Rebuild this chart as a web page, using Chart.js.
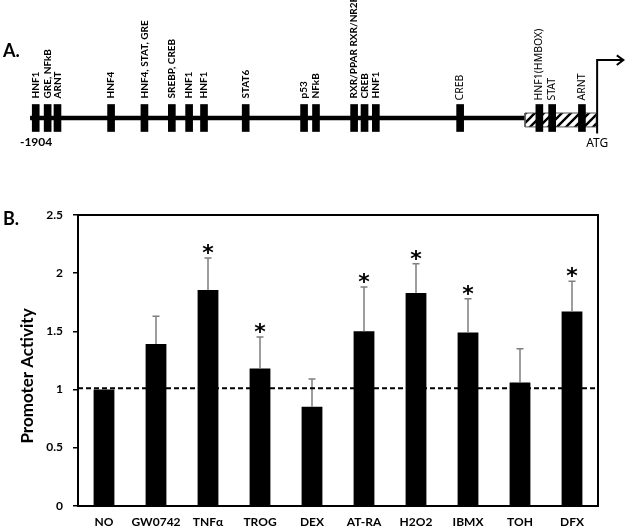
<!DOCTYPE html>
<html>
<head>
<meta charset="utf-8">
<script src="https://cdn.jsdelivr.net/npm/chart.js@4.4.1/dist/chart.umd.min.js"></script>
<style>
  html, body { margin: 0; padding: 0; background: #fff; }
  #wrap { position: relative; width: 629px; height: 529px; }
  #mapChart { position: absolute; left: 0; top: 0; }
  #activityChart { position: absolute; left: 0; top: 160px; }
</style>
</head>
<body>
<div id="wrap">
  <canvas id="mapChart" width="629" height="160"></canvas>
  <canvas id="activityChart" width="629" height="369"></canvas>
</div>
<script>
// A. promoter map, positions in bp relative to ATG
const siteNames = ["HNF1", "GRE, NFkB", "ARNT", "HNF4", "HNF4, STAT, GRE", "SREBP, CREB", "HNF1", "HNF1",
  "STAT6", "p53", "NFkB", "RXR/PPAR RXR/NR2F", "CREB", "HNF1", "CREB", "HNF1(HMBOX)", "STAT", "ARNT"];
const sitePositions = [-1885, -1845, -1812, -1632, -1520, -1428, -1370, -1320,
  -1180, -984, -944, -816, -781, -743, -460, -194, -151, -51];
const promoterStart = -1904;
const utrStart = -242;
const utrEnd = -3;
const atgPos = 0;

// B. promoter activity
const treatments = ["NO", "GW0742", "TNFα", "TROG", "DEX", "AT-RA", "H2O2", "IBMX", "TOH", "DFX"];
const activity = [1.0, 1.39, 1.855, 1.18, 0.85, 1.50, 1.83, 1.49, 1.06, 1.67];
const activitySD = [0, 0.24, 0.275, 0.27, 0.24, 0.38, 0.25, 0.29, 0.29, 0.26];
const significant = [false, false, true, true, false, true, true, true, false, true];
const yTicks = [0, 0.5, 1, 1.5, 2, 2.5];
const controlLevel = 1.01;

Chart.defaults.font.family = "Lato";
Chart.defaults.color = "#000";

// hatch for the 5' UTR box
const hatch = (() => {
  const c = document.createElement("canvas");
  c.width = 9; c.height = 9;
  const g = c.getContext("2d");
  g.fillStyle = "#fff";
  g.fillRect(0, 0, 9, 9);
  g.strokeStyle = "#000";
  g.lineWidth = 2.4;
  g.beginPath();
  g.moveTo(-2, 11); g.lineTo(11, -2);
  g.moveTo(-2, 2); g.lineTo(2, -2);
  g.moveTo(7, 11); g.lineTo(11, 7);
  g.stroke();
  return g.createPattern(c, "repeat");
})();

const boxHalf = 0.5, utrTop = 0.185, utrBottom = -0.33;
const arrowTop = 2.15, arrowBottom = -0.57, arrowLen = 88, headLen = 22, headHalf = 0.17;

const mapLabels = {
  id: "mapLabels",
  afterDatasetsDraw(chart) {
    const { ctx, scales: { x, y } } = chart;
    const base = y.getPixelForValue(boxHalf) - 6;
    ctx.save();
    ctx.fillStyle = "#000";
    siteNames.forEach((name, i) => {
      const px = x.getPixelForValue(sitePositions[i]);
      const proximal = sitePositions[i] > -500;
      ctx.save();
      ctx.translate(px, proximal ? base + 2 : base);
      ctx.rotate(-Math.PI / 2);
      ctx.font = proximal ? "10.5px 'Noto Sans'" : "bold 10px Lato";
      ctx.textAlign = "left";
      ctx.textBaseline = "middle";
      ctx.fillText(name, 0, 0);
      ctx.restore();
    });
    ctx.textBaseline = "middle";
    ctx.textAlign = "center";
    ctx.font = "bold 12px Lato";
    ctx.fillText(String(promoterStart), x.getPixelForValue(promoterStart) + 6, 142);
    ctx.font = "12px 'Noto Sans'";
    ctx.fillText("ATG", x.getPixelForValue(atgPos), 144);
    ctx.textAlign = "left";
    ctx.font = "bold 18px Lato";
    ctx.fillText("A.", 3, 51);
    ctx.restore();
  }
};

new Chart(document.getElementById("mapChart"), {
  type: "bar",
  data: {
    datasets: [
      {
        data: sitePositions.map(p => ({ x: p, y: [-boxHalf, boxHalf] })),
        backgroundColor: "#000",
        barThickness: 7,
        order: 0
      },
      {
        type: "line",
        data: [{ x: utrStart, y: utrTop }, { x: utrEnd, y: utrTop }],
        fill: { value: utrBottom },
        backgroundColor: hatch,
        borderWidth: 0,
        pointRadius: 0,
        order: 3
      },
      {
        type: "line",
        data: [{ x: utrStart, y: utrBottom }, { x: utrEnd, y: utrBottom }, { x: utrEnd, y: utrTop },
          { x: utrStart, y: utrTop }, { x: utrStart, y: utrBottom }],
        borderColor: "#555",
        borderWidth: 1,
        pointRadius: 0,
        fill: false,
        order: 2
      },
      {
        type: "line",
        data: [{ x: promoterStart, y: 0 }, { x: utrStart, y: 0 }],
        borderColor: "#000",
        borderWidth: 4.5,
        pointRadius: 0,
        order: 4
      },
      {
        type: "line",
        data: [{ x: atgPos, y: arrowBottom }, { x: atgPos, y: arrowTop }, { x: atgPos + arrowLen, y: arrowTop }],
        borderColor: "#000",
        borderWidth: 2,
        pointRadius: 0,
        order: 1
      },
      {
        type: "line",
        data: [{ x: atgPos + arrowLen - headLen, y: arrowTop + headHalf }, { x: atgPos + arrowLen, y: arrowTop },
          { x: atgPos + arrowLen - headLen, y: arrowTop - headHalf * 1.1 }],
        borderColor: "#000",
        borderWidth: 2,
        pointRadius: 0,
        order: 1
      }
    ]
  },
  options: {
    responsive: false,
    animation: false,
    events: [],
    layout: { padding: 0 },
    scales: {
      x: { type: "linear", min: -2005, max: 107, offset: false, display: false },
      y: { type: "linear", min: -42 / 27, max: 118 / 27, display: false }
    },
    plugins: { legend: { display: false }, tooltip: { enabled: false } }
  },
  plugins: [mapLabels]
});

const activityExtras = {
  id: "activityExtras",
  afterDatasetsDraw(chart) {
    const { ctx, chartArea: a, scales: { y } } = chart;
    const bars = chart.getDatasetMeta(0).data;
    ctx.save();
    // error bars
    ctx.strokeStyle = "#7f7f7f";
    ctx.lineWidth = 1.5;
    bars.forEach((bar, i) => {
      if (!activitySD[i]) return;
      const top = y.getPixelForValue(activity[i] + activitySD[i]);
      ctx.beginPath();
      ctx.moveTo(bar.x, bar.y);
      ctx.lineTo(bar.x, top);
      ctx.moveTo(bar.x - 3.5, top);
      ctx.lineTo(bar.x + 3.5, top);
      ctx.stroke();
    });
    // significance
    ctx.fillStyle = "#000";
    ctx.font = "bold 22px 'DejaVu Sans'";
    ctx.textAlign = "center";
    ctx.textBaseline = "alphabetic";
    bars.forEach((bar, i) => {
      if (!significant[i]) return;
      const top = y.getPixelForValue(activity[i] + activitySD[i]);
      ctx.fillText("*", bar.x, top + 2);
    });
    // control level
    const cy = y.getPixelForValue(controlLevel);
    ctx.strokeStyle = "#000";
    ctx.lineWidth = 1.8;
    ctx.setLineDash([5, 3]);
    ctx.beginPath();
    ctx.moveTo(a.left, cy);
    ctx.lineTo(a.right, cy);
    ctx.stroke();
    ctx.setLineDash([]);
    // frame
    ctx.lineWidth = 2;
    ctx.beginPath();
    ctx.moveTo(a.left, a.top);
    ctx.lineTo(a.right, a.top);
    ctx.lineTo(a.right, a.bottom);
    ctx.stroke();
    // panel letter and axis title
    ctx.textAlign = "left";
    ctx.textBaseline = "middle";
    ctx.font = "bold 18px Lato";
    ctx.fillText("B.", 3, 59);
    ctx.save();
    ctx.translate(28, 216);
    ctx.rotate(-Math.PI / 2);
    ctx.textAlign = "center";
    ctx.font = "bold 17px Lato";
    ctx.fillText("Promoter Activity", 0, 0);
    ctx.restore();
    ctx.restore();
  }
};

new Chart(document.getElementById("activityChart"), {
  type: "bar",
  data: {
    labels: treatments,
    datasets: [
      {
        data: activity,
        backgroundColor: "#000",
        categoryPercentage: 1,
        barPercentage: 0.4
      }
    ]
  },
  options: {
    responsive: false,
    animation: false,
    events: [],
    layout: { padding: { top: 55, right: 31, left: 0, bottom: 0 } },
    scales: {
      x: {
        grid: { display: false, drawTicks: false },
        border: { display: true, color: "#000", width: 2 },
        ticks: { padding: 9, font: { size: 12, weight: "bold" }, color: "#000", maxRotation: 0, autoSkip: false },
        afterFit: s => { s.height = 23.3; }
      },
      y: {
        min: 0,
        max: 2.5,
        afterBuildTicks: s => { s.ticks = yTicks.map(v => ({ value: v })); },
        grid: { drawOnChartArea: false, drawTicks: true, tickLength: 5, color: "#000", lineWidth: 1.5 },
        border: { display: true, color: "#000", width: 2 },
        ticks: { padding: 10, font: { size: 12, weight: "bold" }, color: "#000", callback: v => String(v) },
        afterFit: s => { s.width = 78; }
      }
    },
    plugins: { legend: { display: false }, tooltip: { enabled: false } }
  },
  plugins: [activityExtras]
});
</script>
</body>
</html>
